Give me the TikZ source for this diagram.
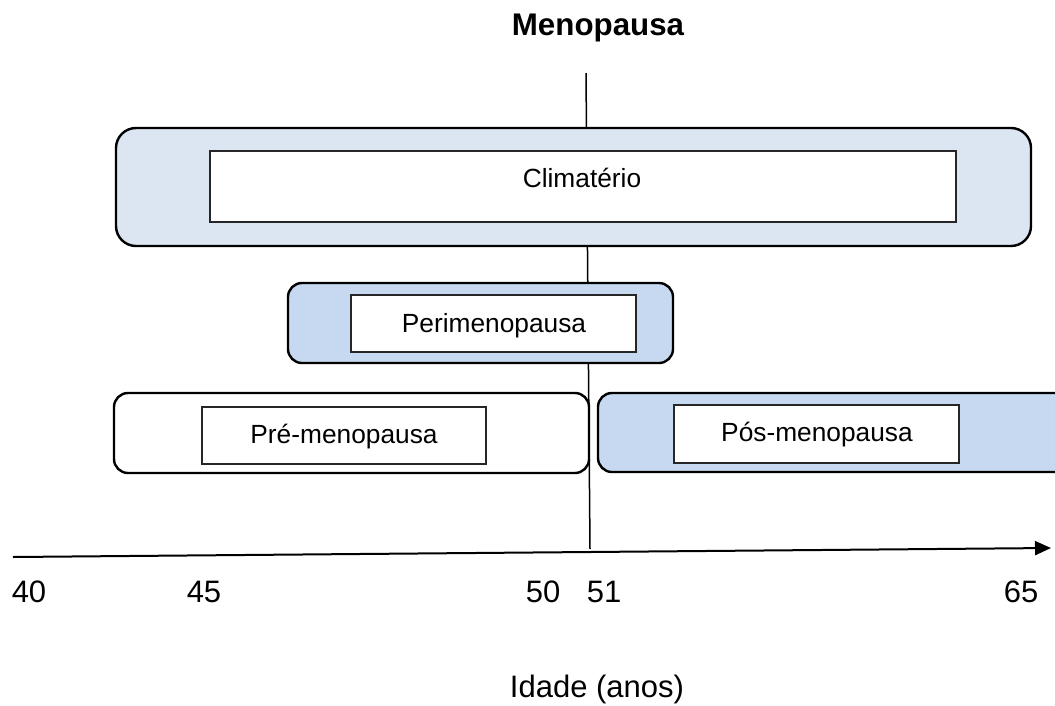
\documentclass[tikz,border=0pt]{standalone}
\usepackage{fontspec}
\setmainfont{Liberation Sans}
\usetikzlibrary{arrows.meta}
\definecolor{climfill}{RGB}{220,230,242}
\definecolor{fasefill}{RGB}{198,217,240}
\tikzset{
  outerbox/.style={draw=black, line width=2.4pt, rounded corners=14pt, inner sep=0pt},
  innerbox/.style={draw=black!85, line width=1.3pt, fill=white, inner sep=0pt},
  boxtext/.style={anchor=base, inner sep=0pt, font=\fontsize{26.3}{30}\selectfont},
  axistext/.style={anchor=base, inner sep=0pt, font=\fontsize{31}{36}\selectfont}
}
\begin{document}
\begin{tikzpicture}[x=1pt,y=-1pt]
		\useasboundingbox (0,0) rectangle (1055,705);
		\clip (0,0) rectangle (1055,705);
		%%%%% START %%%%%
		
		\node[anchor=base, inner sep=0pt, font=\fontsize{31.3}{36}\selectfont\bfseries] (titulo) at (598,35) {Menopausa};
		
		\coordinate (menotop) at (586,73);
		\coordinate (menobot) at (590,549);
		\draw[line width=1.5pt] (menotop) -- (menobot);
		
		\node[outerbox, fill=climfill, rounded corners=20pt, minimum width=915pt, minimum height=118pt] (climatorio) at (573.5,187) {};
		\node[innerbox, minimum width=746pt, minimum height=71pt] (climin) at (583,186.5) {};
		\node[boxtext] (climtexto) at (582,187) {Climatério};
		
		\node[outerbox, fill=fasefill, minimum width=385pt, minimum height=80pt] (perimeno) at (480.5,323) {};
		\node[innerbox, minimum width=285pt, minimum height=57pt] (periin) at (493.5,323.5) {};
		\node[boxtext] (peritexto) at (494,332) {Perimenopausa};
		
		\node[outerbox, fill=white, minimum width=475pt, minimum height=80pt] (premeno) at (351.5,433) {};
		\node[innerbox, minimum width=284pt, minimum height=57pt] (prein) at (344,435.5) {};
		\node[boxtext] (pretexto) at (344,443) {Pré-menopausa};
		
		\node[outerbox, fill=fasefill, minimum width=482pt, minimum height=79pt] (posmeno) at (839,432.5) {};
		\node[innerbox, minimum width=285pt, minimum height=58pt] (posin) at (816.5,434) {};
		\node[boxtext] (postexto) at (817,441) {Pós-menopausa};
		
		\coordinate (eixoini) at (13,557);
		\coordinate (eixofim) at (1051,548);
		\draw[line width=2pt, -{Triangle[length=16pt,width=14pt]}] (eixoini) -- (eixofim);
		
		\node[axistext] (a40) at (29,602) {40};
		\node[axistext] (a45) at (204,602) {45};
		\node[axistext] (a50) at (543,602) {50};
		\node[axistext] (a51) at (604,602) {51};
		\node[axistext] (a65) at (1021,602) {65};
		
		\node[axistext] (idade) at (597,697) {Idade (anos)};
		
		%%%%% END %%%%%
\end{tikzpicture}
\end{document}
